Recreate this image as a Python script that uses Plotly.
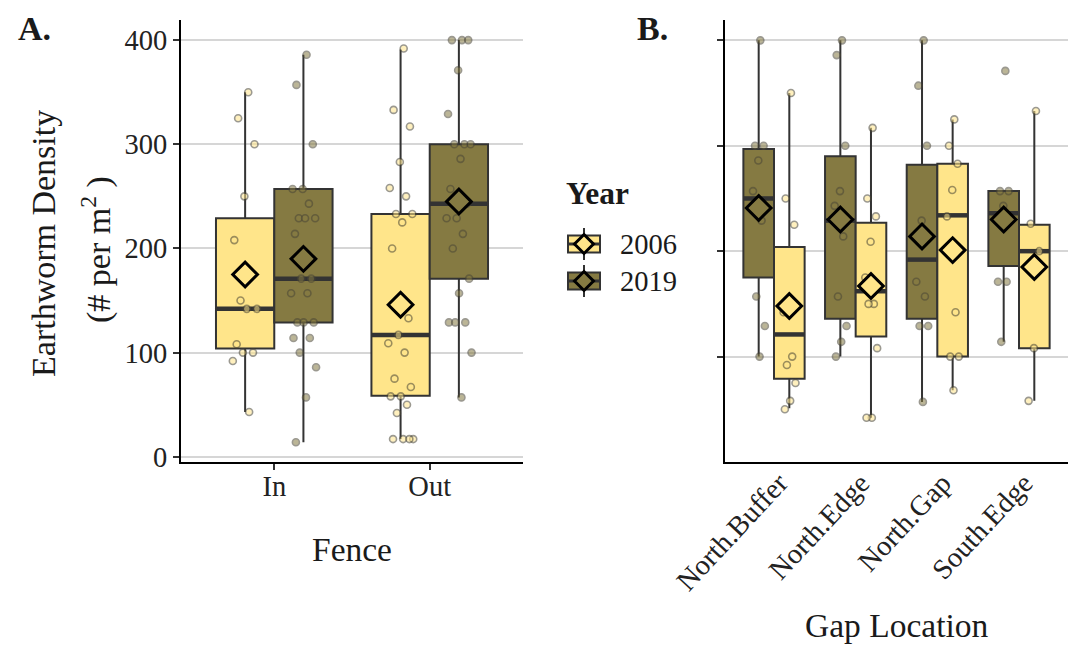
import plotly.graph_objects as go

W, H = 1080, 668

# ---------------- Panel A: density by fence treatment ----------------
fence_cats = ["In", "Out"]

a_2006_q1 = [104, 58.5]
a_2006_median = [142, 117]
a_2006_q3 = [229, 233]
a_2006_lower = [43, 17]
a_2006_upper = [350, 391]
a_2006_mean = [175, 146]

a_2019_q1 = [129, 171]
a_2019_median = [171, 243]
a_2019_q3 = [257, 300]
a_2019_lower = [14, 57]
a_2019_upper = [386, 400]
a_2019_mean = [190, 245]

a_2006_points = [
    [350, 325, 300, 250, 208, 175, 150, 142, 142, 108, 100, 100, 92, 43],
    [392, 333, 317, 283, 258, 250, 233, 233, 225, 200, 133, 117, 109, 100,
     75, 67, 58, 58, 50, 42, 17, 17, 17, 17],
]
a_2019_points = [
    [386, 357, 300, 257, 257, 243, 229, 229, 229, 214, 171, 171, 157, 157,
     129, 129, 129, 114, 114, 100, 86, 57, 14],
    [400, 400, 400, 371, 329, 300, 300, 300, 286, 257, 243, 229, 229, 214,
     200, 171, 157, 129, 129, 129, 100, 57],
]

# ---------------- Panel B: density by gap location ----------------
gap_cats = ["North.Buffer", "North.Edge", "North.Gap", "South.Edge"]

b_2019_q1 = [175, 136, 136, 186]
b_2019_median = [250, 229, 192, 236]
b_2019_q3 = [297, 290, 282, 257]
b_2019_lower = [100, 100, 57, 114]
b_2019_upper = [400, 400, 400, 257]
b_2019_mean = [241, 230, 214, 230]

b_2006_q1 = [79, 119, 100, 108]
b_2006_median = [121, 162, 234, 200]
b_2006_q3 = [204, 227, 283, 225]
b_2006_lower = [51, 42, 68, 58]
b_2006_upper = [350, 317, 325, 333]
b_2006_mean = [148, 167, 201, 185]

b_2019_points = [
    [400, 300, 300, 286, 257, 229, 157, 129, 100],
    [400, 386, 300, 257, 243, 214, 157, 129, 114, 100],
    [400, 357, 300, 229, 171, 157, 129, 129, 57],
    [371, 257, 257, 243, 171, 171, 114],
]
b_2006_points = [
    [350, 250, 225, 142, 142, 100, 92, 75, 58, 50],
    [317, 250, 233, 209, 175, 150, 150, 108, 42, 42],
    [325, 300, 283, 258, 233, 142, 100, 100, 68],
    [333, 226, 200, 108, 58],
]

years = ["2006", "2019"]

# ---------------- styling ----------------
FONT = "Liberation Serif"
INK = "#1a1a1a"
YELLOW = "#FFE58A"
OLIVE = "#857A42"
EDGE = "#333333"
GRID = "#D6D6D6"
BOX_W = 0.375
DODGE = 0.1875
JITTER = 0.085

fig = go.Figure()


def jitter_offsets(n):
    # evenly scattered horizontal offsets (golden-ratio sequence)
    return [(((k + 1) * 0.6180339887) % 1.0 - 0.5) * 2 * JITTER for k in range(n)]


def add_group(xref, yref, centers, q1, med, q3, lo, hi, mean, pts, fill):
    fig.add_trace(go.Box(
        x=centers, q1=q1, median=med, q3=q3, lowerfence=lo, upperfence=hi,
        width=BOX_W, fillcolor=fill, line=dict(color=EDGE, width=2),
        whiskerwidth=0, boxpoints=False, showlegend=False, hoverinfo="skip",
        xaxis=xref, yaxis=yref,
    ))
    # thick median bars
    mx, my = [], []
    for c, m in zip(centers, med):
        mx += [c - BOX_W / 2, c + BOX_W / 2, None]
        my += [m, m, None]
    fig.add_trace(go.Scatter(
        x=mx, y=my, mode="lines", line=dict(color=EDGE, width=4.5),
        showlegend=False, hoverinfo="skip", xaxis=xref, yaxis=yref,
    ))
    # individual observations
    px, py = [], []
    for c, vals in zip(centers, pts):
        offs = jitter_offsets(len(vals))
        px += [c + o for o in offs]
        py += vals
    fig.add_trace(go.Scatter(
        x=px, y=py, mode="markers",
        marker=dict(symbol="circle", size=7, color=fill, opacity=0.55,
                    line=dict(color="#4a4636", width=1.6)),
        showlegend=False, hoverinfo="skip", xaxis=xref, yaxis=yref,
    ))
    # group means
    fig.add_trace(go.Scatter(
        x=centers, y=mean, mode="markers",
        marker=dict(symbol="diamond", size=19, color=fill,
                    line=dict(color="black", width=3)),
        showlegend=False, hoverinfo="skip", xaxis=xref, yaxis=yref,
    ))


a_idx = list(range(len(fence_cats)))
b_idx = list(range(len(gap_cats)))

add_group("x", "y", [i - DODGE for i in a_idx], a_2006_q1, a_2006_median,
          a_2006_q3, a_2006_lower, a_2006_upper, a_2006_mean, a_2006_points, YELLOW)
add_group("x", "y", [i + DODGE for i in a_idx], a_2019_q1, a_2019_median,
          a_2019_q3, a_2019_lower, a_2019_upper, a_2019_mean, a_2019_points, OLIVE)

add_group("x2", "y2", [i - DODGE for i in b_idx], b_2019_q1, b_2019_median,
          b_2019_q3, b_2019_lower, b_2019_upper, b_2019_mean, b_2019_points, OLIVE)
add_group("x2", "y2", [i + DODGE for i in b_idx], b_2006_q1, b_2006_median,
          b_2006_q3, b_2006_lower, b_2006_upper, b_2006_mean, b_2006_points, YELLOW)


def fx(px):
    return px / W


def fy(py):
    return 1 - py / H


axis_common = dict(
    showline=True, linecolor="black", linewidth=2,
    ticks="outside", ticklen=6, tickwidth=2, tickcolor="#333333",
    zeroline=False, mirror=False, automargin=False,
    tickfont=dict(family=FONT, size=28.5, color="#222222"),
)

fig.update_layout(
    width=W, height=H,
    margin=dict(l=0, r=0, t=0, b=0, pad=0),
    paper_bgcolor="white", plot_bgcolor="white",
    font=dict(family=FONT, color=INK),
    xaxis=dict(domain=[fx(181), fx(523)], range=[-0.6, 1.6],
               tickvals=a_idx, ticktext=fence_cats, showgrid=False,
               ticklabelstandoff=-8, anchor="y", **axis_common),
    yaxis=dict(domain=[fy(462), fy(20)], range=[-5, 419.3],
               tickvals=[0, 100, 200, 300, 400], showgrid=True,
               gridcolor=GRID, gridwidth=1.5, anchor="x", **axis_common),
    xaxis2=dict(domain=[fx(725), fx(1068)], range=[-0.6, 3.6],
                tickvals=b_idx, ticktext=gap_cats, showgrid=False,
                tickangle=-47, ticklabelstandoff=-9, ticklabelshift=5,
                anchor="y2", **{**axis_common, "ticks": ""}),
    yaxis2=dict(domain=[fy(462), fy(20)], range=[0, 419.3],
                tickvals=[100, 200, 300, 400], showticklabels=False,
                showgrid=True, gridcolor=GRID, gridwidth=1.5, anchor="x2",
                **axis_common),
)

ann = []


def text(x, y, s, size, bold=False, xanchor="center", angle=0):
    ann.append(dict(
        x=fx(x), y=fy(y), xref="paper", yref="paper", text=f"<b>{s}</b>" if bold else s,
        showarrow=False, xanchor=xanchor, yanchor="middle", textangle=angle,
        font=dict(family=FONT, size=size, color=INK),
    ))


text(34, 29, "A.", 34, bold=True)
text(652, 29, "B.", 34, bold=True)
text(43, 244, "Earthworm Density", 34, angle=-90)
text(96, 250, "(# per m<sup>2</sup> )", 34, angle=-90)
text(352, 549, "Fence", 33.5)
text(897, 625, "Gap Location", 33.5)

# legend
text(564, 193, "Year", 31.5, bold=True, xanchor="left")
key_rows = [(244, YELLOW, years[0]), (281, OLIVE, years[1])]
shapes = []
for cy, col, lab in key_rows:
    text(618, cy, lab, 28.5, xanchor="left")
    kx0, kx1, kc = 568, 600, 584
    shapes.append(dict(type="line", xref="paper", yref="paper",
                       x0=fx(kc), x1=fx(kc), y0=fy(cy - 16), y1=fy(cy + 16),
                       line=dict(color=EDGE, width=2)))
    shapes.append(dict(type="rect", xref="paper", yref="paper",
                       x0=fx(kx0), x1=fx(kx1), y0=fy(cy - 8.5), y1=fy(cy + 8.5),
                       fillcolor=col, line=dict(color=EDGE, width=2)))
    shapes.append(dict(type="line", xref="paper", yref="paper",
                       x0=fx(kx0), x1=fx(kx1), y0=fy(cy), y1=fy(cy),
                       line=dict(color=EDGE, width=3)))
    d = 9.5
    path = (f"M {fx(kc)},{fy(cy - d)} L {fx(kc + d)},{fy(cy)} "
            f"L {fx(kc)},{fy(cy + d)} L {fx(kc - d)},{fy(cy)} Z")
    shapes.append(dict(type="path", xref="paper", yref="paper", path=path,
                       fillcolor=col, line=dict(color="black", width=3)))

fig.update_layout(annotations=ann, shapes=shapes)

fig.write_html("out.html")
